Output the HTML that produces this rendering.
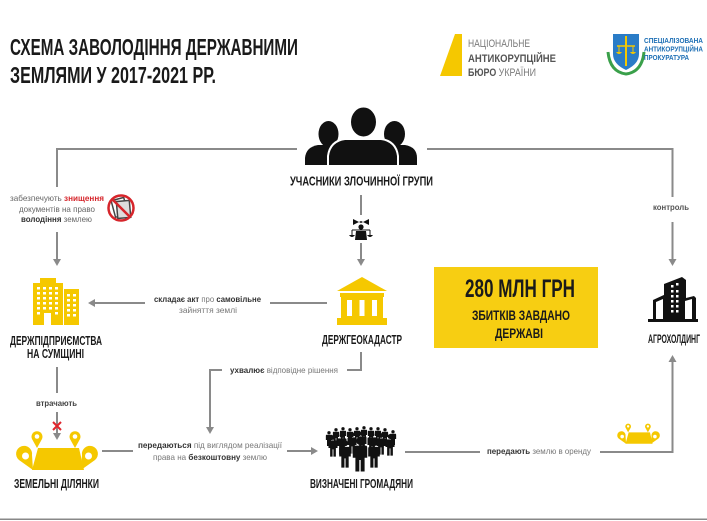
<!DOCTYPE html>
<html><head><meta charset="utf-8">
<style>
html,body{margin:0;padding:0;background:#fff;}
svg{display:block;}
text{font-family:"Liberation Sans","DejaVu Sans",sans-serif;}
</style></head>
<body>
<svg width="707" height="521" viewBox="0 0 707 521" xmlns="http://www.w3.org/2000/svg">
<rect width="707" height="521" fill="#fff"/>

<!-- Title -->
<text x="10" y="55" font-size="23" font-weight="bold" fill="#1a1a1a" textLength="288" lengthAdjust="spacingAndGlyphs">СХЕМА ЗАВОЛОДІННЯ ДЕРЖАВНИМИ</text>
<text x="10" y="83" font-size="23" font-weight="bold" fill="#1a1a1a" textLength="206" lengthAdjust="spacingAndGlyphs">ЗЕМЛЯМИ  У 2017-2021 РР.</text>

<!-- NABU logo -->
<polygon points="455,34 462,34 462,76 440,76" fill="#F5C800"/>
<text x="468" y="47" font-size="11" fill="#7a7a7a" textLength="62" lengthAdjust="spacingAndGlyphs">НАЦІОНАЛЬНЕ</text>
<text x="468" y="62" font-size="11" font-weight="bold" fill="#555" textLength="88" lengthAdjust="spacingAndGlyphs">АНТИКОРУПЦІЙНЕ</text>
<text x="468" y="76" font-size="11" fill="#7a7a7a" textLength="68" lengthAdjust="spacingAndGlyphs"><tspan font-weight="bold" fill="#555">БЮРО</tspan> УКРАЇНИ</text>

<!-- SAP logo -->
<path d="M608,52 Q610,72 626,74 Q642,72 644,52" fill="none" stroke="#3aa04a" stroke-width="3"/>
<path d="M613,34 L639,34 L639,54 Q639,64 626,70 Q613,64 613,54 Z" fill="#2a7cc7"/>
<line x1="626" y1="36" x2="626" y2="66" stroke="#F5C800" stroke-width="2"/>
<line x1="617" y1="46" x2="635" y2="46" stroke="#F5C800" stroke-width="1.5"/>
<path d="M616,52 Q619,56 622,52 Z M630,52 Q633,56 636,52 Z" fill="#F5C800"/>
<line x1="619" y1="46" x2="619" y2="52" stroke="#F5C800" stroke-width="1"/>
<line x1="633" y1="46" x2="633" y2="52" stroke="#F5C800" stroke-width="1"/>
<text x="644" y="43" font-size="7.5" font-weight="bold" fill="#1d6fb5" textLength="59" lengthAdjust="spacingAndGlyphs">СПЕЦІАЛІЗОВАНА</text>
<text x="644" y="51.5" font-size="7.5" font-weight="bold" fill="#1d6fb5" textLength="59" lengthAdjust="spacingAndGlyphs">АНТИКОРУПЦІЙНА</text>
<text x="644" y="60" font-size="7.5" font-weight="bold" fill="#1d6fb5" textLength="45" lengthAdjust="spacingAndGlyphs">ПРОКУРАТУРА</text>

<!-- connectors -->
<g stroke="#8a8a8a" stroke-width="2" fill="none">
  <polyline points="297,149 57,149 57,187"/>
  <line x1="57" y1="232" x2="57" y2="260"/>
  <polyline points="427,149 672.5,149 672.5,197"/>
  <line x1="672.5" y1="222" x2="672.5" y2="260"/>
  <line x1="361" y1="195" x2="361" y2="215"/>
  <line x1="361" y1="243" x2="361" y2="260"/>
  <line x1="327" y1="303" x2="270" y2="303"/>
  <line x1="145" y1="303" x2="93" y2="303"/>
  <polyline points="361,352 361,370 347,370"/>
  <polyline points="222,370 210,370 210,428"/>
  <line x1="57" y1="367" x2="57" y2="393"/>
  <line x1="57" y1="412" x2="57" y2="434"/>
  <line x1="102" y1="451" x2="133" y2="451"/>
  <line x1="287" y1="451" x2="313" y2="451"/>
  <line x1="405" y1="452" x2="480" y2="452"/>
  <polyline points="600,452 672.5,452 672.5,361"/>
</g>
<g fill="#8a8a8a">
  <polygon points="53,259 61,259 57,266"/>
  <polygon points="668.5,259 676.5,259 672.5,266"/>
  <polygon points="357,259 365,259 361,266"/>
  <polygon points="95,299 95,307 88,303"/>
  <polygon points="206,427 214,427 210,434"/>
  <polygon points="53,433 61,433 57,440"/>
  <polygon points="311,447 311,455 318,451"/>
  <polygon points="668.5,362 676.5,362 672.5,355"/>
</g>
<rect x="0" y="518.5" width="707" height="1.5" fill="#888"/>

<!-- People icon -->
<g fill="#111">
  <ellipse cx="328.5" cy="134" rx="10" ry="13"/>
  <path d="M305,165 L305,158 Q306,147 318,145 L338,145 Q350,147 351,158 L351,165 Z"/>
  <ellipse cx="394.5" cy="134" rx="10.5" ry="13"/>
  <path d="M372,165 L372,158 Q373,147 385,145 L405,145 Q417,147 417,158 L417,165 Z"/>
  <path d="M328,166 L328,156 Q330,141 345,139 L381,139 Q396,141 398,156 L398,166 Z" stroke="#fff" stroke-width="2"/>
  <ellipse cx="363.5" cy="122" rx="13.5" ry="15.5" stroke="#fff" stroke-width="2"/>
</g>
<text x="290" y="185.5" font-size="13" font-weight="bold" fill="#1a1a1a" textLength="143" lengthAdjust="spacingAndGlyphs">УЧАСНИКИ ЗЛОЧИННОЇ ГРУПИ</text>

<!-- judge icon -->
<g fill="#111" stroke="#111">
  <path d="M353,219 L361,223 L369,219 L369,225 L361,221 L353,225 Z" stroke="none"/>
  <circle cx="361" cy="227" r="2.6" stroke="none"/>
  <path d="M356,231 L366,231 L367,240 L355,240 Z" stroke="none"/>
  <line x1="352" y1="230" x2="352" y2="235" stroke-width="1"/>
  <line x1="370" y1="230" x2="370" y2="235" stroke-width="1"/>
  <path d="M349,235 Q352,239 355,235 Z M367,235 Q370,239 373,235 Z" stroke="none"/>
  <line x1="352" y1="230" x2="370" y2="230" stroke-width="1"/>
</g>

<!-- destroy docs label + icon -->
<text x="10" y="201" font-size="8.5" fill="#666" textLength="94" lengthAdjust="spacingAndGlyphs">забезпечують <tspan font-weight="bold" fill="#d6252b">знищення</tspan></text>
<text x="19" y="212" font-size="8.5" fill="#666" textLength="76" lengthAdjust="spacingAndGlyphs">документів на право</text>
<text x="21" y="222" font-size="8.5" fill="#666" textLength="71" lengthAdjust="spacingAndGlyphs"><tspan font-weight="bold" fill="#333">володіння</tspan> землею</text>
<g>
  <rect x="113" y="199" width="13" height="17" fill="#fff" stroke="#444" stroke-width="1.5" transform="rotate(-15 119 207)"/>
  <rect x="117" y="201" width="13" height="17" fill="#ddd" stroke="#444" stroke-width="1.5" transform="rotate(-5 123 209)"/>
  <circle cx="121" cy="208" r="12.5" fill="none" stroke="#d6252b" stroke-width="2.5"/>
  <line x1="112" y1="199" x2="130" y2="217" stroke="#d6252b" stroke-width="2.5"/>
</g>

<text x="653" y="210" font-size="8.5" font-weight="bold" fill="#555" textLength="36" lengthAdjust="spacingAndGlyphs">контроль</text>

<!-- Держпідприємства building -->
<g fill="#F5C800">
  <path d="M40,278 L56,278 L56,283 L63,283 L63,325 L33,325 L33,283 L40,283 Z"/>
  <rect x="64" y="289" width="15" height="36"/>
</g>
<g fill="#fff">
  <rect x="37" y="287" width="3" height="2.5"/><rect x="43" y="287" width="3" height="2.5"/><rect x="49" y="287" width="3" height="2.5"/><rect x="55" y="287" width="3" height="2.5"/>
  <rect x="37" y="292" width="3" height="2.5"/><rect x="43" y="292" width="3" height="2.5"/><rect x="49" y="292" width="3" height="2.5"/><rect x="55" y="292" width="3" height="2.5"/>
  <rect x="37" y="297" width="3" height="2.5"/><rect x="43" y="297" width="3" height="2.5"/><rect x="49" y="297" width="3" height="2.5"/><rect x="55" y="297" width="3" height="2.5"/>
  <rect x="37" y="302" width="3" height="2.5"/><rect x="43" y="302" width="3" height="2.5"/><rect x="49" y="302" width="3" height="2.5"/><rect x="55" y="302" width="3" height="2.5"/>
  <rect x="37" y="307" width="3" height="2.5"/><rect x="43" y="307" width="3" height="2.5"/><rect x="49" y="307" width="3" height="2.5"/><rect x="55" y="307" width="3" height="2.5"/>
  <rect x="37" y="312" width="3" height="2.5"/><rect x="55" y="312" width="3" height="2.5"/>
  <rect x="44" y="313" width="7" height="12"/>
  <rect x="67" y="294" width="3" height="2.5"/><rect x="73" y="294" width="3" height="2.5"/>
  <rect x="67" y="299" width="3" height="2.5"/><rect x="73" y="299" width="3" height="2.5"/>
  <rect x="67" y="304" width="3" height="2.5"/><rect x="73" y="304" width="3" height="2.5"/>
  <rect x="67" y="309" width="3" height="2.5"/><rect x="73" y="309" width="3" height="2.5"/>
  <rect x="67" y="314" width="3" height="2.5"/><rect x="73" y="314" width="3" height="2.5"/>
</g>
<text x="10" y="345" font-size="12.5" font-weight="bold" fill="#1a1a1a" textLength="92" lengthAdjust="spacingAndGlyphs">ДЕРЖПІДПРИЄМСТВА</text>
<text x="27" y="358" font-size="12.5" font-weight="bold" fill="#1a1a1a" textLength="57" lengthAdjust="spacingAndGlyphs">НА СУМЩИНІ</text>

<!-- act label -->
<text x="154" y="302" font-size="8.5" fill="#777" textLength="107" lengthAdjust="spacingAndGlyphs"><tspan font-weight="bold" fill="#333">складає акт</tspan> про <tspan font-weight="bold" fill="#333">самовільне</tspan></text>
<text x="179" y="313" font-size="8.5" fill="#777" textLength="58" lengthAdjust="spacingAndGlyphs">зайняття землі</text>

<!-- Держгеокадастр building -->
<g fill="#F5C800">
  <polygon points="337,291 362,277 387,291"/>
  <rect x="340" y="293" width="44" height="4"/>
  <rect x="341" y="297" width="42" height="21"/>
  <rect x="337" y="318" width="50" height="7"/>
</g>
<g fill="#fff">
  <rect x="347" y="300" width="5" height="16"/>
  <rect x="359.5" y="300" width="5" height="16"/>
  <rect x="372" y="300" width="5" height="16"/>
</g>
<text x="322" y="344" font-size="12.5" font-weight="bold" fill="#1a1a1a" textLength="80" lengthAdjust="spacingAndGlyphs">ДЕРЖГЕОКАДАСТР</text>

<text x="230" y="373" font-size="8.5" fill="#777" textLength="108" lengthAdjust="spacingAndGlyphs"><tspan font-weight="bold" fill="#333">ухвалює</tspan> відповідне рішення</text>

<!-- Yellow box -->
<rect x="434" y="267" width="164" height="81" fill="#F7CE12"/>
<text x="465" y="297" font-size="25" font-weight="bold" fill="#1a1a1a" textLength="110" lengthAdjust="spacingAndGlyphs">280 МЛН ГРН</text>
<text x="472" y="320" font-size="13.5" font-weight="bold" fill="#1a1a1a" textLength="98" lengthAdjust="spacingAndGlyphs">ЗБИТКІВ ЗАВДАНО</text>
<text x="495" y="338" font-size="13.5" font-weight="bold" fill="#1a1a1a" textLength="48" lengthAdjust="spacingAndGlyphs">ДЕРЖАВІ</text>

<!-- Agroholding -->
<g fill="#111">
  <polygon points="664,284 682,277 682,320 664,320"/>
  <polygon points="682,277 686,280 686,320 682,320"/>
  <path d="M653,300 L666,294 L666,320 L653,320 Z" fill="#111"/>
  <path d="M656,302 L663,299 L663,320 L656,320 Z" fill="#fff"/>
  <path d="M682,299 L694,296 L696,298 L696,320 L682,320 Z"/>
  <path d="M685,301 L692,299 L692,320 L685,320 Z" fill="#fff"/>
  <rect x="648" y="319" width="50" height="3"/>
</g>
<g fill="#fff">
  <rect x="671" y="285" width="2.5" height="2.5"/><rect x="676" y="283" width="2.5" height="2.5"/>
  <rect x="671" y="290" width="2.5" height="2.5"/><rect x="676" y="290" width="2.5" height="2.5"/>
  <rect x="671" y="295" width="2.5" height="2.5"/><rect x="676" y="295" width="2.5" height="2.5"/>
  <rect x="671" y="300" width="2.5" height="2.5"/><rect x="676" y="300" width="2.5" height="2.5"/>
  <rect x="671" y="305" width="2.5" height="2.5"/><rect x="676" y="305" width="2.5" height="2.5"/>
  <rect x="671" y="310" width="2.5" height="2.5"/><rect x="676" y="310" width="2.5" height="2.5"/>
</g>
<text x="648" y="343" font-size="12" font-weight="bold" fill="#1a1a1a" textLength="52" lengthAdjust="spacingAndGlyphs">АГРОХОЛДИНГ</text>

<!-- втрачають -->
<text x="36" y="406" font-size="8.5" font-weight="bold" fill="#444" textLength="41" lengthAdjust="spacingAndGlyphs">втрачають</text>
<g stroke="#e0262d" stroke-width="2">
  <line x1="53" y1="422" x2="61" y2="430"/>
  <line x1="61" y1="422" x2="53" y2="430"/>
</g>

<!-- Land icon -->
<g id="land">
  <polygon points="38,448 79,448 84,470 32,470" fill="#F5C800"/>
  <g fill="#F5C800">
    <path d="M37,448 L32,439 A5.5,5.5 0 1 1 42,439 Z"/>
    <path d="M75,448 L70,439 A5.5,5.5 0 1 1 80,439 Z"/>
    <path d="M33,470 L19,460 A8,8 0 1 1 32,455 Z"/>
    <path d="M81,470 L95,460 A8,8 0 1 0 82,455 Z"/>
  </g>
  <g fill="#fff">
    <circle cx="37" cy="436.5" r="2.3"/>
    <circle cx="75" cy="436.5" r="2.3"/>
    <circle cx="25.5" cy="456" r="3.5"/>
    <circle cx="88.5" cy="456" r="3.5"/>
  </g>
</g>
<text x="14" y="488" font-size="12.5" font-weight="bold" fill="#1a1a1a" textLength="85" lengthAdjust="spacingAndGlyphs">ЗЕМЕЛЬНІ ДІЛЯНКИ</text>

<text x="138" y="448" font-size="8.5" fill="#777" textLength="144" lengthAdjust="spacingAndGlyphs"><tspan font-weight="bold" fill="#333">передаються</tspan> під виглядом реалізації</text>
<text x="153" y="460" font-size="8.5" fill="#777" textLength="114" lengthAdjust="spacingAndGlyphs">права на <tspan font-weight="bold" fill="#333">безкоштовну</tspan> землю</text>

<!-- crowd -->
<defs>
  <g id="pp">
    <circle cx="0" cy="3.5" r="3.3"/>
    <path d="M-5,7.5 L5,7.5 Q6.3,7.5 6.3,9.5 L6.3,18 L4,18 L4,30 L0.6,30 L0.6,20 L-0.6,20 L-0.6,30 L-4,30 L-4,18 L-6.3,18 L-6.3,9.5 Q-6.3,7.5 -5,7.5 Z"/>
  </g>
</defs>
<g fill="#111">
  <use href="#pp" transform="translate(329,431) scale(0.5)"/>
  <use href="#pp" transform="translate(336,428) scale(0.5)"/>
  <use href="#pp" transform="translate(343,427) scale(0.5)"/>
  <use href="#pp" transform="translate(350,428) scale(0.5)"/>
  <use href="#pp" transform="translate(357,427) scale(0.5)"/>
  <use href="#pp" transform="translate(364,426) scale(0.5)"/>
  <use href="#pp" transform="translate(371,427) scale(0.5)"/>
  <use href="#pp" transform="translate(378,427) scale(0.5)"/>
  <use href="#pp" transform="translate(385,428) scale(0.5)"/>
  <use href="#pp" transform="translate(393,430) scale(0.5)"/>
  <use href="#pp" transform="translate(333,435) scale(0.72)"/>
  <use href="#pp" transform="translate(342,433) scale(0.72)"/>
  <use href="#pp" transform="translate(352,432) scale(0.72)"/>
  <use href="#pp" transform="translate(362,431) scale(0.72)"/>
  <use href="#pp" transform="translate(372,432) scale(0.72)"/>
  <use href="#pp" transform="translate(381,433) scale(0.72)"/>
  <use href="#pp" transform="translate(390,434) scale(0.72)"/>
  <use href="#pp" transform="translate(345,440) scale(0.92)"/>
  <use href="#pp" transform="translate(374,440) scale(0.92)"/>
  <use href="#pp" transform="translate(360,437) scale(1.15)"/>
</g>
<text x="310" y="488" font-size="12.5" font-weight="bold" fill="#1a1a1a" textLength="103" lengthAdjust="spacingAndGlyphs">ВИЗНАЧЕНІ ГРОМАДЯНИ</text>

<text x="487" y="454" font-size="8.5" fill="#777" textLength="104" lengthAdjust="spacingAndGlyphs"><tspan font-weight="bold" fill="#333">передають</tspan> землю в оренду</text>

<!-- small land icon -->
<use href="#land" transform="translate(608.9,199.4) scale(0.52)"/>

</svg>
</body></html>
